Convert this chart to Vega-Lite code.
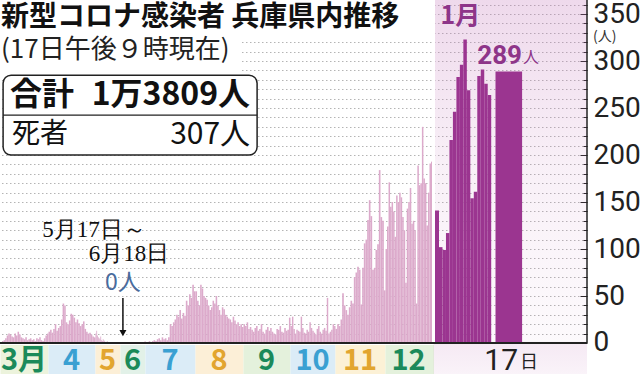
{
"$schema": "https://vega.github.io/schema/vega-lite/v6.json",
"width": 587, "height": 374,
"autosize": {"type": "none"},
"padding": {"left": 0, "top": 0, "right": 53, "bottom": 0},
"background": "white",
"config": {"view": {"stroke": null}, "text": {"font": "Noto Sans CJK JP"}},
"title": {"text": "新型コロナ感染者 兵庫県内推移", "subtitle": "(17日午後９時現在)", "anchor": "start", "frame": "group", "offset": -72, "dx": 1, "zindex": 1,
  "font": "Noto Sans CJK JP", "fontSize": 28, "fontWeight": "bold", "color": "#111",
  "subtitleFont": "Noto Sans CJK JP", "subtitleFontSize": 26, "subtitleColor": "#222", "subtitlePadding": 5},
"datasets": {
"daily": [
{"date":"2020-03-01","cases":1},{"date":"2020-03-02","cases":2},{"date":"2020-03-03","cases":3},{"date":"2020-03-04","cases":5},{"date":"2020-03-05","cases":8},{"date":"2020-03-06","cases":10},{"date":"2020-03-07","cases":9},{"date":"2020-03-08","cases":7},{"date":"2020-03-09","cases":6},{"date":"2020-03-10","cases":10},{"date":"2020-03-11","cases":8},{"date":"2020-03-12","cases":12},{"date":"2020-03-13","cases":9},{"date":"2020-03-14","cases":6},{"date":"2020-03-15","cases":5},{"date":"2020-03-16","cases":4},{"date":"2020-03-17","cases":6},{"date":"2020-03-18","cases":3},{"date":"2020-03-19","cases":4},{"date":"2020-03-20","cases":5},{"date":"2020-03-21","cases":3},{"date":"2020-03-22","cases":4},{"date":"2020-03-23","cases":2},{"date":"2020-03-24","cases":5},{"date":"2020-03-25","cases":4},{"date":"2020-03-26","cases":6},{"date":"2020-03-27","cases":3},{"date":"2020-03-28","cases":2},{"date":"2020-03-29","cases":5},{"date":"2020-03-30","cases":8},{"date":"2020-03-31","cases":10},
{"date":"2020-04-01","cases":12},{"date":"2020-04-02","cases":14},{"date":"2020-04-03","cases":11},{"date":"2020-04-04","cases":15},{"date":"2020-04-05","cases":20},{"date":"2020-04-06","cases":13},{"date":"2020-04-07","cases":16},{"date":"2020-04-08","cases":18},{"date":"2020-04-09","cases":25},{"date":"2020-04-10","cases":42},{"date":"2020-04-11","cases":40},{"date":"2020-04-12","cases":22},{"date":"2020-04-13","cases":20},{"date":"2020-04-14","cases":24},{"date":"2020-04-15","cases":31},{"date":"2020-04-16","cases":30},{"date":"2020-04-17","cases":27},{"date":"2020-04-18","cases":22},{"date":"2020-04-19","cases":25},{"date":"2020-04-20","cases":21},{"date":"2020-04-21","cases":18},{"date":"2020-04-22","cases":20},{"date":"2020-04-23","cases":23},{"date":"2020-04-24","cases":15},{"date":"2020-04-25","cases":12},{"date":"2020-04-26","cases":10},{"date":"2020-04-27","cases":11},{"date":"2020-04-28","cases":9},{"date":"2020-04-29","cases":7},{"date":"2020-04-30","cases":6},
{"date":"2020-05-01","cases":10},{"date":"2020-05-02","cases":13},{"date":"2020-05-03","cases":8},{"date":"2020-05-04","cases":6},{"date":"2020-05-05","cases":5},{"date":"2020-05-06","cases":4},{"date":"2020-05-07","cases":7},{"date":"2020-05-08","cases":3},{"date":"2020-05-09","cases":2},{"date":"2020-05-10","cases":4},{"date":"2020-05-11","cases":3},{"date":"2020-05-12","cases":2},{"date":"2020-05-13","cases":1},{"date":"2020-05-14","cases":1},{"date":"2020-05-15","cases":2},{"date":"2020-05-16","cases":1},{"date":"2020-05-17","cases":0},{"date":"2020-05-18","cases":0},{"date":"2020-05-19","cases":0},{"date":"2020-05-20","cases":0},{"date":"2020-05-21","cases":0},{"date":"2020-05-22","cases":0},{"date":"2020-05-23","cases":0},{"date":"2020-05-24","cases":0},{"date":"2020-05-25","cases":0},{"date":"2020-05-26","cases":0},{"date":"2020-05-27","cases":0},{"date":"2020-05-28","cases":0},{"date":"2020-05-29","cases":0},{"date":"2020-05-30","cases":0},{"date":"2020-05-31","cases":0},
{"date":"2020-06-01","cases":0},{"date":"2020-06-02","cases":0},{"date":"2020-06-03","cases":0},{"date":"2020-06-04","cases":0},{"date":"2020-06-05","cases":0},{"date":"2020-06-06","cases":0},{"date":"2020-06-07","cases":0},{"date":"2020-06-08","cases":0},{"date":"2020-06-09","cases":0},{"date":"2020-06-10","cases":0},{"date":"2020-06-11","cases":0},{"date":"2020-06-12","cases":0},{"date":"2020-06-13","cases":0},{"date":"2020-06-14","cases":0},{"date":"2020-06-15","cases":0},{"date":"2020-06-16","cases":0},{"date":"2020-06-17","cases":0},{"date":"2020-06-18","cases":0},{"date":"2020-06-19","cases":1},{"date":"2020-06-20","cases":0},{"date":"2020-06-21","cases":1},{"date":"2020-06-22","cases":0},{"date":"2020-06-23","cases":0},{"date":"2020-06-24","cases":1},{"date":"2020-06-25","cases":0},{"date":"2020-06-26","cases":0},{"date":"2020-06-27","cases":1},{"date":"2020-06-28","cases":0},{"date":"2020-06-29","cases":1},{"date":"2020-06-30","cases":2},
{"date":"2020-07-01","cases":1},{"date":"2020-07-02","cases":0},{"date":"2020-07-03","cases":2},{"date":"2020-07-04","cases":1},{"date":"2020-07-05","cases":2},{"date":"2020-07-06","cases":3},{"date":"2020-07-07","cases":2},{"date":"2020-07-08","cases":4},{"date":"2020-07-09","cases":5},{"date":"2020-07-10","cases":3},{"date":"2020-07-11","cases":6},{"date":"2020-07-12","cases":4},{"date":"2020-07-13","cases":5},{"date":"2020-07-14","cases":3},{"date":"2020-07-15","cases":6},{"date":"2020-07-16","cases":20},{"date":"2020-07-17","cases":18},{"date":"2020-07-18","cases":22},{"date":"2020-07-19","cases":25},{"date":"2020-07-20","cases":30},{"date":"2020-07-21","cases":28},{"date":"2020-07-22","cases":35},{"date":"2020-07-23","cases":26},{"date":"2020-07-24","cases":32},{"date":"2020-07-25","cases":29},{"date":"2020-07-26","cases":45},{"date":"2020-07-27","cases":40},{"date":"2020-07-28","cases":52},{"date":"2020-07-29","cases":48},{"date":"2020-07-30","cases":62},{"date":"2020-07-31","cases":55},
{"date":"2020-08-01","cases":55},{"date":"2020-08-02","cases":45},{"date":"2020-08-03","cases":40},{"date":"2020-08-04","cases":62},{"date":"2020-08-05","cases":58},{"date":"2020-08-06","cases":50},{"date":"2020-08-07","cases":48},{"date":"2020-08-08","cases":46},{"date":"2020-08-09","cases":40},{"date":"2020-08-10","cases":35},{"date":"2020-08-11","cases":38},{"date":"2020-08-12","cases":45},{"date":"2020-08-13","cases":42},{"date":"2020-08-14","cases":50},{"date":"2020-08-15","cases":40},{"date":"2020-08-16","cases":35},{"date":"2020-08-17","cases":30},{"date":"2020-08-18","cases":38},{"date":"2020-08-19","cases":36},{"date":"2020-08-20","cases":30},{"date":"2020-08-21","cases":28},{"date":"2020-08-22","cases":26},{"date":"2020-08-23","cases":25},{"date":"2020-08-24","cases":22},{"date":"2020-08-25","cases":28},{"date":"2020-08-26","cases":24},{"date":"2020-08-27","cases":20},{"date":"2020-08-28","cases":22},{"date":"2020-08-29","cases":18},{"date":"2020-08-30","cases":20},{"date":"2020-08-31","cases":17},
{"date":"2020-09-01","cases":20},{"date":"2020-09-02","cases":18},{"date":"2020-09-03","cases":22},{"date":"2020-09-04","cases":15},{"date":"2020-09-05","cases":17},{"date":"2020-09-06","cases":14},{"date":"2020-09-07","cases":12},{"date":"2020-09-08","cases":16},{"date":"2020-09-09","cases":18},{"date":"2020-09-10","cases":13},{"date":"2020-09-11","cases":15},{"date":"2020-09-12","cases":20},{"date":"2020-09-13","cases":12},{"date":"2020-09-14","cases":10},{"date":"2020-09-15","cases":14},{"date":"2020-09-16","cases":17},{"date":"2020-09-17","cases":13},{"date":"2020-09-18","cases":16},{"date":"2020-09-19","cases":12},{"date":"2020-09-20","cases":10},{"date":"2020-09-21","cases":9},{"date":"2020-09-22","cases":15},{"date":"2020-09-23","cases":14},{"date":"2020-09-24","cases":18},{"date":"2020-09-25","cases":12},{"date":"2020-09-26","cases":11},{"date":"2020-09-27","cases":16},{"date":"2020-09-28","cases":13},{"date":"2020-09-29","cases":14},{"date":"2020-09-30","cases":27},
{"date":"2020-10-01","cases":18},{"date":"2020-10-02","cases":28},{"date":"2020-10-03","cases":15},{"date":"2020-10-04","cases":10},{"date":"2020-10-05","cases":14},{"date":"2020-10-06","cases":13},{"date":"2020-10-07","cases":12},{"date":"2020-10-08","cases":28},{"date":"2020-10-09","cases":16},{"date":"2020-10-10","cases":11},{"date":"2020-10-11","cases":10},{"date":"2020-10-12","cases":14},{"date":"2020-10-13","cases":12},{"date":"2020-10-14","cases":22},{"date":"2020-10-15","cases":16},{"date":"2020-10-16","cases":13},{"date":"2020-10-17","cases":11},{"date":"2020-10-18","cases":9},{"date":"2020-10-19","cases":15},{"date":"2020-10-20","cases":18},{"date":"2020-10-21","cases":12},{"date":"2020-10-22","cases":10},{"date":"2020-10-23","cases":14},{"date":"2020-10-24","cases":16},{"date":"2020-10-25","cases":13},{"date":"2020-10-26","cases":48},{"date":"2020-10-27","cases":10},{"date":"2020-10-28","cases":12},{"date":"2020-10-29","cases":14},{"date":"2020-10-30","cases":20},{"date":"2020-10-31","cases":18},
{"date":"2020-11-01","cases":15},{"date":"2020-11-02","cases":20},{"date":"2020-11-03","cases":18},{"date":"2020-11-04","cases":25},{"date":"2020-11-05","cases":53},{"date":"2020-11-06","cases":40},{"date":"2020-11-07","cases":35},{"date":"2020-11-08","cases":30},{"date":"2020-11-09","cases":38},{"date":"2020-11-10","cases":45},{"date":"2020-11-11","cases":42},{"date":"2020-11-12","cases":70},{"date":"2020-11-13","cases":75},{"date":"2020-11-14","cases":81},{"date":"2020-11-15","cases":78},{"date":"2020-11-16","cases":41},{"date":"2020-11-17","cases":80},{"date":"2020-11-18","cases":106},{"date":"2020-11-19","cases":110},{"date":"2020-11-20","cases":131},{"date":"2020-11-21","cases":152},{"date":"2020-11-22","cases":135},{"date":"2020-11-23","cases":78},{"date":"2020-11-24","cases":80},{"date":"2020-11-25","cases":99},{"date":"2020-11-26","cases":105},{"date":"2020-11-27","cases":184},{"date":"2020-11-28","cases":134},{"date":"2020-11-29","cases":130},{"date":"2020-11-30","cases":56},
{"date":"2020-12-01","cases":100},{"date":"2020-12-02","cases":124},{"date":"2020-12-03","cases":171},{"date":"2020-12-04","cases":145},{"date":"2020-12-05","cases":150},{"date":"2020-12-06","cases":140},{"date":"2020-12-07","cases":113},{"date":"2020-12-08","cases":157},{"date":"2020-12-09","cases":150},{"date":"2020-12-10","cases":160},{"date":"2020-12-11","cases":155},{"date":"2020-12-12","cases":134},{"date":"2020-12-13","cases":120},{"date":"2020-12-14","cases":64},{"date":"2020-12-15","cases":143},{"date":"2020-12-16","cases":150},{"date":"2020-12-17","cases":165},{"date":"2020-12-18","cases":127},{"date":"2020-12-19","cases":130},{"date":"2020-12-20","cases":120},{"date":"2020-12-21","cases":42},{"date":"2020-12-22","cases":189},{"date":"2020-12-23","cases":168},{"date":"2020-12-24","cases":170},{"date":"2020-12-25","cases":230},{"date":"2020-12-26","cases":175},{"date":"2020-12-27","cases":170},{"date":"2020-12-28","cases":125},{"date":"2020-12-29","cases":160},{"date":"2020-12-30","cases":191},{"date":"2020-12-31","cases":193}
],
"jan": [
{"date":"2021-01-01","cases":141},{"date":"2021-01-02","cases":102},{"date":"2021-01-03","cases":99},{"date":"2021-01-04","cases":117},{"date":"2021-01-05","cases":216},{"date":"2021-01-06","cases":246},{"date":"2021-01-07","cases":283},{"date":"2021-01-08","cases":296},{"date":"2021-01-09","cases":323},{"date":"2021-01-10","cases":269},{"date":"2021-01-11","cases":154},{"date":"2021-01-12","cases":161},{"date":"2021-01-13","cases":284},{"date":"2021-01-14","cases":291},{"date":"2021-01-15","cases":276},{"date":"2021-01-16","cases":264}
],
"latest": [{"date":"2021-01-17","cases":289}],
"months": [
{"month":"2020-03-01","label":"3月"},{"month":"2020-04-01","label":"4"},{"month":"2020-05-01","label":"5"},{"month":"2020-06-01","label":"6"},{"month":"2020-07-01","label":"7"},{"month":"2020-08-01","label":"8"},{"month":"2020-09-01","label":"9"},{"month":"2020-10-01","label":"10"},{"month":"2020-11-01","label":"11"},{"month":"2020-12-01","label":"12"}
]
},
"layer": [
{"data": {"name": "months"}, "mark": {"type": "bar", "binSpacing": 0},
 "encoding": {
  "x": {"field": "month", "timeUnit": "utcyearmonth", "type": "temporal", "axis": null,
   "scale": {"type": "utc", "nice": false,
    "domainRaw": {"expr": "[utc(2020,2,1),utc(2020,3,1),utc(2020,4,1),utc(2020,5,1),utc(2020,6,1),utc(2020,7,1),utc(2020,8,1),utc(2020,9,1),utc(2020,10,1),utc(2020,11,1),utc(2020,11,31),utc(2021,0,1),utc(2021,0,2),utc(2021,0,17),utc(2021,0,18),utc(2021,1,1)]"},
    "range": [0,48,95,120,145,195,243,290,335,385,430.5,433.5,438.5,490.7,517.3,587]}},
  "y": {"datum": -33, "type": "quantitative", "title": null, "scale": {"domain": [-33, 365], "nice": false, "zero": false}},
  "y2": {"datum": -2.2},
  "fill": {"field": "label", "type": "nominal", "legend": null,
   "scale": {"domain": ["3月","4","5","6","7","8","9","10","11","12"], "range": ["#ecf3dc","#dbecf7","#fcefd7","#e2f1e8","#dbecf7","#fcefd7","#e4f1dc","#dbecf7","#fcf1d6","#e4f1dc"]}}
 }},
{"data": {"values": [{}]},
 "mark": {"type": "rect", "fill": {"gradient": "linear", "x1": 0, "y1": 0, "x2": 0, "y2": 1,
   "stops": [{"offset": 0, "color": "rgba(196,120,186,0.28)"}, {"offset": 0.45, "color": "rgba(196,120,186,0.11)"}, {"offset": 0.91, "color": "rgba(196,120,186,0.04)"}, {"offset": 0.92, "color": "rgba(196,120,186,0.16)"}, {"offset": 1, "color": "rgba(196,120,186,0.09)"}]}},
 "encoding": {
  "x": {"datum": {"year":2021,"month":1,"date":1,"utc":true}, "type": "temporal", "axis": null},
  "x2": {"datum": {"year":2021,"month":2,"date":1,"utc":true}},
  "y": {"datum": -33, "type": "quantitative", "title": null},
  "y2": {"datum": 365}
 }},
{"data": {"values": [{}]}, "mark": {"type": "rect", "fill": "white"},
 "encoding": {
  "x": {"datum": {"year":2020,"month":3,"date":1,"utc":true}, "type": "temporal", "axis": null},
  "x2": {"datum": {"year":2021,"month":1,"date":1,"utc":true}},
  "y": {"datum": 326, "type": "quantitative", "title": null},
  "y2": {"datum": 365}
 }},
{"data": {"values": [{}]}, "mark": {"type": "rect", "fill": "white"},
 "encoding": {
  "x": {"datum": {"year":2020,"month":3,"date":1,"utc":true}, "type": "temporal", "axis": null},
  "x2": {"datum": {"year":2020,"month":8,"date":31,"utc":true}},
  "y": {"datum": 283, "type": "quantitative", "title": null},
  "y2": {"datum": 326}
 }},
{"data": {"name": "daily"}, "mark": {"type": "bar", "color": "#dcaacb", "binSpacing": 0},
 "encoding": {
  "x": {"field": "date", "timeUnit": "utcyearmonthdate", "type": "temporal", "axis": null},
  "y": {"field": "cases", "type": "quantitative",
   "axis": {"orient": "right", "title": null, "tickCount": 100,
    "values": [0,10,20,30,40,50,60,70,80,90,100,110,120,130,140,150,160,170,180,190,200,210,220,230,240,250,260,270,280,290,300,310,320,330,340,350,360],
    "grid": true, "gridDash": [1.5, 2.5], "gridColor": "#b4b4b4", "gridWidth": 1,
    "domain": false, "ticks": true, "tickColor": "#222", "tickWidth": 1,
    "tickSize": {"condition": {"test": "datum.value % 50 === 0", "value": -7}, "value": -4},
    "labelPadding": 13, "labelExpr": "datum.value % 50 === 0 ? datum.label : ''",
    "labelFont": "Liberation Sans Narrow, Roboto, sans-serif", "labelFontSize": 28, "labelColor": "#222",
    "labelOverlap": false, "labelBound": false, "labelFlush": false, "labelBaseline": "middle", "labelAlign": "left", "format": "d"}}
 }},
{"data": {"name": "jan"}, "mark": {"type": "bar", "color": "#9b3590", "binSpacing": 0},
 "encoding": {
  "x": {"field": "date", "timeUnit": "utcyearmonthdate", "type": "temporal", "axis": null},
  "y": {"field": "cases", "type": "quantitative", "title": null}
 }},
{"data": {"name": "latest"}, "mark": {"type": "bar", "color": "#9b3590", "binSpacing": 0, "xOffset": 4.3},
 "encoding": {
  "x": {"field": "date", "timeUnit": "utcyearmonthdate", "type": "temporal", "axis": null},
  "y": {"field": "cases", "type": "quantitative", "title": null}
 }},
{"data": {"values": [{}]}, "mark": {"type": "rule", "color": "white", "strokeWidth": 3},
 "encoding": {
  "x": {"datum": {"year":2021,"month":1,"date":1,"utc":true}, "type": "temporal", "axis": null},
  "y": {"datum": 0, "type": "quantitative", "title": null},
  "y2": {"datum": 365}
 }},
{"data": {"values": [{}]}, "mark": {"type": "rule", "color": "#222", "strokeWidth": 2},
 "encoding": {"y": {"datum": 0, "type": "quantitative", "title": null}}},
{"data": {"values": [{}]}, "mark": {"type": "rule", "color": "#222", "strokeWidth": 1.5},
 "encoding": {
  "x": {"datum": {"year":2021,"month":2,"date":1,"utc":true}, "type": "temporal", "axis": null},
  "y": {"datum": 0, "type": "quantitative", "title": null},
  "y2": {"datum": 365}
 }},
{"data": {"name": "months"}, "mark": {"type": "text", "font": "Noto Sans CJK JP", "fontSize": 29, "fontWeight": "bold", "baseline": "middle", "align": "center"},
 "encoding": {
  "x": {"field": "month", "timeUnit": "utcyearmonth", "type": "temporal", "bandPosition": 0.5, "axis": null},
  "y": {"datum": -19, "type": "quantitative", "title": null},
  "text": {"field": "label", "type": "nominal"},
  "color": {"field": "label", "type": "nominal", "legend": null,
   "scale": {"domain": ["3月","4","5","6","7","8","9","10","11","12"], "range": ["#1b8a5a","#3aa0d2","#e2a52f","#1b8a5a","#3aa0d2","#e2a52f","#1b8a5a","#3aa0d2","#e2a52f","#1b8a5a"]}}
 }},
{"data": {"name": "latest"}, "mark": {"type": "text", "font": "Liberation Sans Narrow, Roboto, sans-serif", "fontSize": 30, "color": "#222", "baseline": "middle", "align": "right", "dx": 14},
 "encoding": {
  "x": {"field": "date", "timeUnit": "utcyearmonthdate", "type": "temporal", "bandPosition": 0.5, "axis": null},
  "y": {"datum": -19, "type": "quantitative", "title": null},
  "text": {"field": "date", "timeUnit": "utcdate", "type": "ordinal"}
 }},
{"data": {"name": "latest"}, "mark": {"type": "text", "font": "Noto Sans CJK JP", "fontSize": 18, "color": "#222", "baseline": "middle", "align": "left", "dx": 16, "dy": 2, "text": "日"},
 "encoding": {
  "x": {"field": "date", "timeUnit": "utcyearmonthdate", "type": "temporal", "bandPosition": 0.5, "axis": null},
  "y": {"datum": -19, "type": "quantitative", "title": null}
 }},
{"data": {"values": [{}]}, "mark": {"type": "rect", "fill": "white", "stroke": "#222", "strokeWidth": 1.5, "cornerRadius": 8},
 "encoding": {
  "x": {"datum": {"year":2020,"month":3,"date":3,"utc":true}, "type": "temporal", "axis": null},
  "x2": {"datum": {"year":2020,"month":9,"date":10,"utc":true}},
  "y": {"datum": 200, "type": "quantitative", "title": null},
  "y2": {"datum": 285}
 }},
{"data": {"values": [{}]}, "mark": {"type": "rule", "color": "#222", "strokeWidth": 1.2},
 "encoding": {
  "x": {"datum": {"year":2020,"month":3,"date":3,"utc":true}, "type": "temporal", "axis": null},
  "x2": {"datum": {"year":2020,"month":9,"date":10,"utc":true}},
  "y": {"datum": 242.5, "type": "quantitative", "title": null}
 }},
{"data": {"values": [{}]}, "mark": {"type": "text", "font": "Noto Sans CJK JP", "fontSize": 32, "fontWeight": "bold", "color": "#111", "align": "left", "baseline": "middle", "dx": 7, "text": "合計"},
 "encoding": {
  "x": {"datum": {"year":2020,"month":3,"date":3,"utc":true}, "type": "temporal", "axis": null},
  "y": {"datum": 264, "type": "quantitative", "title": null}
 }},
{"data": {"values": [{}]}, "mark": {"type": "text", "font": "Noto Sans CJK JP", "fontSize": 32, "fontWeight": "bold", "color": "#111", "align": "right", "baseline": "middle", "dx": -7, "text": "1万3809人"},
 "encoding": {
  "x": {"datum": {"year":2020,"month":9,"date":10,"utc":true}, "type": "temporal", "axis": null},
  "y": {"datum": 264, "type": "quantitative", "title": null}
 }},
{"data": {"values": [{}]}, "mark": {"type": "text", "font": "Noto Sans CJK JP", "fontSize": 28, "color": "#111", "align": "left", "baseline": "middle", "dx": 9, "text": "死者"},
 "encoding": {
  "x": {"datum": {"year":2020,"month":3,"date":3,"utc":true}, "type": "temporal", "axis": null},
  "y": {"datum": 221, "type": "quantitative", "title": null}
 }},
{"data": {"values": [{}]}, "mark": {"type": "text", "font": "Noto Sans CJK JP", "fontSize": 30, "color": "#111", "align": "right", "baseline": "middle", "dx": -7, "text": "307人"},
 "encoding": {
  "x": {"datum": {"year":2020,"month":9,"date":10,"utc":true}, "type": "temporal", "axis": null},
  "y": {"datum": 221, "type": "quantitative", "title": null}
 }},
{"data": {"values": [{}]}, "mark": {"type": "text", "font": "Liberation Serif, DejaVu Serif, serif", "fontSize": 23, "color": "#111", "align": "center", "baseline": "middle", "dx": -29, "text": "5月17日～"},
 "encoding": {
  "x": {"datum": {"year":2020,"month":6,"date":4,"hours":12,"utc":true}, "type": "temporal", "axis": null},
  "y": {"datum": 120, "type": "quantitative", "title": null}
 }},
{"data": {"values": [{}]}, "mark": {"type": "text", "font": "Liberation Serif, DejaVu Serif, serif", "fontSize": 23, "color": "#111", "align": "center", "baseline": "middle", "dx": 6, "text": "6月18日"},
 "encoding": {
  "x": {"datum": {"year":2020,"month":6,"date":4,"hours":12,"utc":true}, "type": "temporal", "axis": null},
  "y": {"datum": 94.7, "type": "quantitative", "title": null}
 }},
{"data": {"values": [{}]}, "mark": {"type": "text", "font": "Noto Sans CJK JP", "fontSize": 23, "color": "#4a6b9c", "align": "center", "baseline": "middle", "text": "0人"},
 "encoding": {
  "x": {"datum": {"year":2020,"month":6,"date":4,"hours":12,"utc":true}, "type": "temporal", "axis": null},
  "y": {"datum": 64, "type": "quantitative", "title": null}
 }},
{"data": {"values": [{}]}, "mark": {"type": "rule", "color": "#111", "strokeWidth": 1.5},
 "encoding": {
  "x": {"datum": {"year":2020,"month":6,"date":4,"hours":12,"utc":true}, "type": "temporal", "axis": null},
  "y": {"datum": 48, "type": "quantitative", "title": null},
  "y2": {"datum": 13}
 }},
{"data": {"values": [{}]}, "mark": {"type": "point", "shape": "triangle-down", "filled": true, "color": "#111", "opacity": 1, "size": 50},
 "encoding": {
  "x": {"datum": {"year":2020,"month":6,"date":4,"hours":12,"utc":true}, "type": "temporal", "axis": null},
  "y": {"datum": 10.5, "type": "quantitative", "title": null}
 }},
{"data": {"values": [{}]}, "mark": {"type": "text", "font": "Noto Sans CJK JP", "fontSize": 25, "fontWeight": "bold", "color": "#8e3589", "align": "left", "baseline": "middle", "dx": 7, "text": "1月"},
 "encoding": {
  "x": {"datum": {"year":2021,"month":1,"date":1,"utc":true}, "type": "temporal", "axis": null},
  "y": {"datum": 348, "type": "quantitative", "title": null}
 }},
{"data": {"name": "latest"}, "mark": {"type": "text", "font": "Liberation Sans Narrow, Roboto, sans-serif", "fontSize": 26, "fontWeight": "bold", "color": "#8e3589", "align": "right", "baseline": "middle", "dx": 18, "dy": -15},
 "encoding": {
  "x": {"field": "date", "timeUnit": "utcyearmonthdate", "type": "temporal", "bandPosition": 0.5, "axis": null},
  "y": {"field": "cases", "type": "quantitative", "title": null},
  "text": {"field": "cases", "type": "quantitative"}
 }},
{"data": {"name": "latest"}, "mark": {"type": "text", "font": "Noto Sans CJK JP", "fontSize": 16, "color": "#8e3589", "align": "left", "baseline": "middle", "dx": 19, "dy": -13, "text": "人"},
 "encoding": {
  "x": {"field": "date", "timeUnit": "utcyearmonthdate", "type": "temporal", "bandPosition": 0.5, "axis": null},
  "y": {"field": "cases", "type": "quantitative", "title": null}
 }},
{"data": {"values": [{}]}, "mark": {"type": "text", "font": "Noto Sans CJK JP", "fontSize": 14, "color": "#333", "align": "left", "baseline": "middle", "dx": 6, "text": "(人)"},
 "encoding": {
  "x": {"datum": {"year":2021,"month":2,"date":1,"utc":true}, "type": "temporal", "axis": null},
  "y": {"datum": 326, "type": "quantitative", "title": null}
 }}
]
}
